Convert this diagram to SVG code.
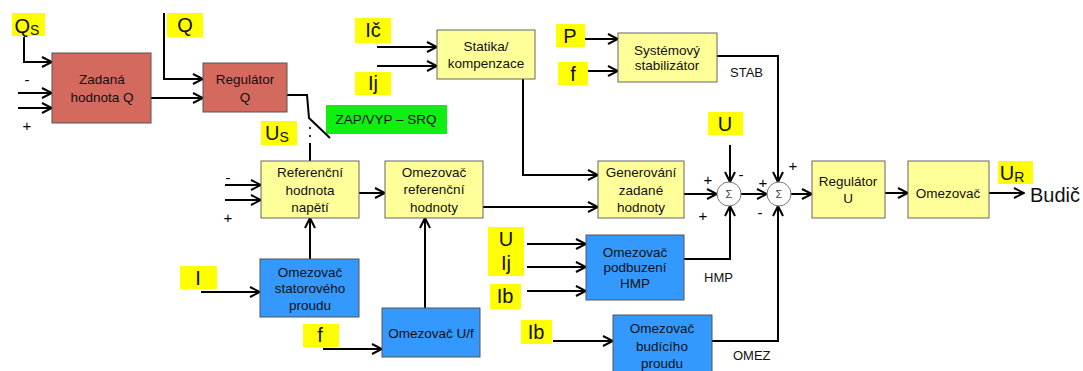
<svg xmlns="http://www.w3.org/2000/svg" width="1083" height="371" viewBox="0 0 1083 371">
<style>
text{font-family:"Liberation Sans",Arial,sans-serif;fill:#111}
.bt{font-size:13.5px;text-anchor:middle}
.lb{font-size:20px;text-anchor:middle}
.sub{font-size:14px}
.sm{font-size:13px}
.sg{font-size:15px;text-anchor:middle;fill:#000}
.yel{fill:#FFFF99;stroke:#666;stroke-width:1}
.blu{fill:#3399FF;stroke:#555;stroke-width:1}
.red{fill:#D4695E;stroke:#555;stroke-width:1}
.lab{fill:#FFFF00}
.c{fill:none;stroke:#000;stroke-width:2}
.ca{fill:none;stroke:#000;stroke-width:2;marker-end:url(#ar)}
.sum{fill:#fff;stroke:#777;stroke-width:1}
</style>
<defs>
<marker id="ar" viewBox="0 0 12 12" markerUnits="userSpaceOnUse" markerWidth="12" markerHeight="12" refX="11" refY="6" orient="auto">
<path d="M1,1 L11,6 L1,11" fill="none" stroke="#000" stroke-width="2"/>
</marker>
</defs>

<g id="labels">
<rect class="lab" x="12" y="13" width="33" height="23"/><text class="lb" x="27" y="33">Q<tspan class="sub" dy="2">S</tspan></text>
<rect class="lab" x="167" y="13" width="36" height="24"/><text class="lb" x="185" y="32">Q</text>
<rect class="lab" x="261" y="121" width="36" height="24"/><text class="lb" x="277" y="140">U<tspan class="sub" dy="2">S</tspan></text>
<rect class="lab" x="355" y="18" width="36" height="25"/><text class="lb" x="373" y="37">Ič</text>
<rect class="lab" x="355" y="72" width="36" height="23"/><text class="lb" x="373" y="90">Ij</text>
<rect class="lab" x="556" y="24" width="29" height="23"/><text class="lb" x="570" y="43">P</text>
<rect class="lab" x="558" y="62" width="30" height="23"/><text class="lb" x="573" y="81">f</text>
<rect class="lab" x="708" y="112" width="35" height="23"/><text class="lb" x="725" y="131">U</text>
<rect class="lab" x="998" y="161" width="35" height="23"/><text class="lb" x="1012" y="180">U<tspan class="sub" dy="2">R</tspan></text>
<rect class="lab" x="488" y="227" width="36" height="25"/><text class="lb" x="506" y="246">U</text>
<rect class="lab" x="488" y="251" width="36" height="25"/><text class="lb" x="506" y="270">Ij</text>
<rect class="lab" x="490" y="284" width="31" height="25"/><text class="lb" x="505" y="303">Ib</text>
<rect class="lab" x="521" y="320" width="31" height="24"/><text class="lb" x="536" y="339">Ib</text>
<rect class="lab" x="180" y="266" width="37" height="23"/><text class="lb" x="198" y="285">I</text>
<rect class="lab" x="303" y="324" width="36" height="23"/><text class="lb" x="320" y="342">f</text>
<rect x="326" y="105" width="121" height="29" fill="#11EE11"/><text x="386" y="124" style="font-size:13.5px;text-anchor:middle">ZAP/VYP – SRQ</text>
<text x="1030" y="202" style="font-size:20px">Budič</text>
<text class="sm" x="730" y="77">STAB</text>
<text class="sm" x="704" y="282">HMP</text>
<text class="sm" x="733" y="360">OMEZ</text>
</g>

<g id="signs">
<text class="sg" x="27" y="85">-</text>
<text class="sg" x="27" y="131">+</text>
<text class="sg" x="228" y="183">-</text>
<text class="sg" x="228" y="223">+</text>
<text class="sg" x="708" y="185">+</text>
<text class="sg" x="741" y="180">-</text>
<text class="sg" x="703" y="221">+</text>
<text class="sg" x="763" y="188">+</text>
<text class="sg" x="793" y="171">+</text>
<text class="sg" x="760" y="218">-</text>
</g>

<g id="connectors">
<polyline class="ca" points="24,37 24,62 52,62"/>
<line class="ca" x1="18" y1="93" x2="52" y2="93"/>
<line class="ca" x1="18" y1="108" x2="52" y2="108"/>
<polyline class="ca" points="164,13 164,79 203,79"/>
<line class="ca" x1="151" y1="98" x2="203" y2="98"/>
<polyline class="c" points="287,95 307,95 309,118 330,138"/>
<circle cx="310" cy="128" r="1.2" fill="#333"/>
<circle cx="310" cy="136" r="1.2" fill="#333"/>
<line class="c" x1="310" y1="143" x2="310" y2="161"/>
<line class="ca" x1="225" y1="185" x2="261" y2="185"/>
<line class="ca" x1="225" y1="200" x2="261" y2="200"/>
<line class="ca" x1="359" y1="193" x2="385" y2="193"/>
<line class="ca" x1="483" y1="207" x2="598" y2="207"/>
<polyline class="ca" points="523,79 523,175 598,175"/>
<line class="ca" x1="377" y1="47" x2="437" y2="47"/>
<line class="ca" x1="377" y1="66" x2="437" y2="66"/>
<line class="ca" x1="585" y1="39" x2="618" y2="39"/>
<line class="ca" x1="588" y1="71" x2="618" y2="71"/>
<polyline class="ca" points="717,56 778,56 778,182"/>
<line class="ca" x1="730" y1="145" x2="730" y2="182"/>
<line class="ca" x1="684" y1="194" x2="717" y2="194"/>
<line class="ca" x1="741" y1="194" x2="767" y2="194"/>
<line class="ca" x1="791" y1="194" x2="812" y2="194"/>
<line class="ca" x1="885" y1="193" x2="908" y2="193"/>
<line class="ca" x1="989" y1="193" x2="1024" y2="193"/>
<polyline class="ca" points="684,259 730,259 730,206"/>
<polyline class="ca" points="712,341 778,341 778,206"/>
<line class="ca" x1="527" y1="244" x2="586" y2="244"/>
<line class="ca" x1="527" y1="267" x2="586" y2="267"/>
<line class="ca" x1="527" y1="291" x2="586" y2="291"/>
<line class="ca" x1="553" y1="341" x2="613" y2="341"/>
<line class="ca" x1="310" y1="259" x2="310" y2="218"/>
<line class="ca" x1="201" y1="292" x2="260" y2="292"/>
<line class="ca" x1="425" y1="308" x2="425" y2="218"/>
<line class="ca" x1="323" y1="349" x2="382" y2="349"/>
</g>

<g id="zadana"><rect class="red" x="52" y="53" width="99" height="70"/><text class="bt" x="102" y="84">Zadaná</text><text class="bt" x="102" y="101.5">hodnota Q</text></g>
<g id="regQ"><rect class="red" x="203" y="63" width="84" height="49"/><text class="bt" x="245" y="84">Regulátor</text><text class="bt" x="245" y="101.5">Q</text></g>
<g id="refnap"><rect class="yel" x="261" y="161" width="98" height="57"/><text class="bt" x="310" y="177">Referenční</text><text class="bt" x="310" y="194.5">hodnota</text><text class="bt" x="310" y="212">napětí</text></g>
<g id="omref"><rect class="yel" x="385" y="161" width="98" height="57"/><text class="bt" x="434" y="177">Omezovač</text><text class="bt" x="434" y="194">referenční</text><text class="bt" x="434" y="212">hodnoty</text></g>
<g id="statika"><rect class="yel" x="437" y="30" width="98" height="49"/><text class="bt" x="486" y="50.5">Statika/</text><text class="bt" x="486" y="67.5">kompenzace</text></g>
<g id="pss"><rect class="yel" x="618" y="33" width="99" height="49"/><text class="bt" x="667" y="54.5">Systémový</text><text class="bt" x="667" y="70">stabilizátor</text></g>
<g id="gen"><rect class="yel" x="598" y="161" width="86" height="57"/><text class="bt" x="641" y="177">Generování</text><text class="bt" x="641" y="194.5">zadané</text><text class="bt" x="641" y="212">hodnoty</text></g>
<g id="sum1"><circle class="sum" cx="729" cy="194" r="12"/><text x="729" y="198" style="font-size:11px;text-anchor:middle;fill:#444">Σ</text></g>
<g id="sum2"><circle class="sum" cx="779" cy="194" r="12"/><text x="779" y="198" style="font-size:11px;text-anchor:middle;fill:#444">Σ</text></g>
<g id="regU"><rect class="yel" x="812" y="161" width="73" height="57"/><text class="bt" x="848" y="186">Regulátor</text><text class="bt" x="848" y="203">U</text></g>
<g id="omez"><rect class="yel" x="908" y="161" width="81" height="57"/><text class="bt" x="948" y="197.5">Omezovač</text></g>
<g id="omhmp"><rect class="blu" x="586" y="235" width="98" height="65"/><text class="bt" x="635" y="256.5">Omezovač</text><text class="bt" x="635" y="272">podbuzení</text><text class="bt" x="635" y="288">HMP</text></g>
<g id="ombud"><rect class="blu" x="613" y="315" width="99" height="60"/><text class="bt" x="662" y="332.5">Omezovač</text><text class="bt" x="662" y="350.5">budícího</text><text class="bt" x="662" y="367.5">proudu</text></g>
<g id="omstat"><rect class="blu" x="260" y="259" width="99" height="58"/><text class="bt" x="310" y="276.5">Omezovač</text><text class="bt" x="310" y="293">statorového</text><text class="bt" x="310" y="309.5">proudu</text></g>
<g id="omuf"><rect class="blu" x="382" y="308" width="98" height="49"/><text class="bt" x="431" y="337.5">Omezovač U/f</text></g>
</svg>
